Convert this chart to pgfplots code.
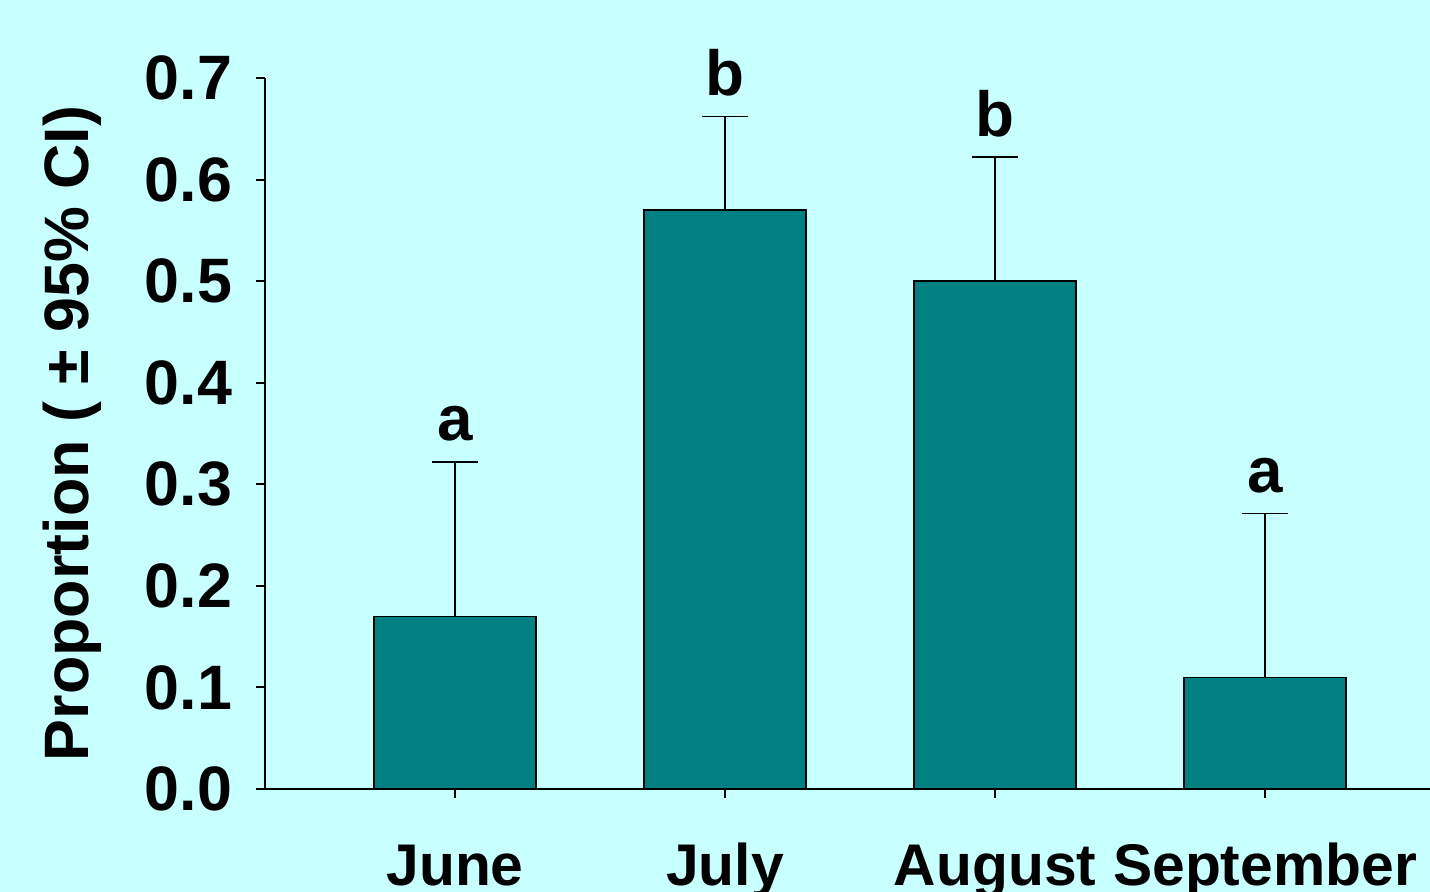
\documentclass[border=0pt]{standalone}
\usepackage{pgfplots}
\pgfplotsset{compat=1.18}
\usepackage{fontspec}
\setmainfont{Liberation Sans}
\definecolor{bgcyan}{RGB}{200,255,255}
\definecolor{barteal}{RGB}{0,128,128}
\newcommand{\xbf}{\fontsize{29.5}{32}\selectfont\bfseries}
\newcommand{\ybf}{\fontsize{31.5}{34}\selectfont\bfseries}
\newcommand{\lbf}{\fontsize{32}{34}\selectfont\bfseries}

\begin{document}
\begin{tikzpicture}[x=1bp,y=1bp]
\path[use as bounding box] (0,0) rectangle (715,446);
\clip (0,0) rectangle (715,446);
\fill[bgcyan] (0,0) rectangle (715,446);
\begin{axis}[
    at={(132.5bp,51.5bp)}, anchor=south west,
    scale only axis, width=582.5bp, height=355.5bp,
    xmin=-0.7037, xmax=3.611, ymin=0, ymax=0.7,
    axis x line=bottom, axis y line=left,
    axis line style={-, line width=1bp, black},
    tick align=outside, major tick length=4.5bp,
    tick style={black, line width=1bp},
    xtick={0,1,2,3}, xticklabels={June,July,August,September},
    ytick={0,0.1,0.2,0.3,0.4,0.5,0.6,0.7},
    /pgf/number format/assume math mode=true,
    yticklabel style={font=\ybf, xshift=-8.5bp,
        /pgf/number format/.cd, fixed, fixed zerofill, precision=1},
    xticklabel style={font=\xbf, anchor=base, yshift=-44bp},
    ylabel={Proportion ( ± 95\% CI)},
    ylabel style={font=\ybf, at={(axis description cs:-0.1657,0.5)}, anchor=center},
    ybar, bar width=81bp,
    clip=false,
]
\addplot[fill=barteal, draw=black, line width=0.75bp,
    error bars/.cd, y dir=plus, y explicit,
    error bar style={line width=0.75bp, black},
    error mark options={rotate=90, mark size=11.5bp, line width=0.75bp, black}]
    coordinates {
    (0,0.17) +- (0,0.152)
    (1,0.57) +- (0,0.092)
    (2,0.50) +- (0,0.122)
    (3,0.11) +- (0,0.161)
};
\node[anchor=base, font=\lbf, yshift=10.5bp] at (axis cs:0,0.322) {a};
\node[anchor=base, font=\lbf, yshift=10.5bp] at (axis cs:1,0.662) {b};
\node[anchor=base, font=\lbf, yshift=10.5bp] at (axis cs:2,0.622) {b};
\node[anchor=base, font=\lbf, yshift=10.5bp] at (axis cs:3,0.271) {a};
\end{axis}
\end{tikzpicture}
\end{document}
